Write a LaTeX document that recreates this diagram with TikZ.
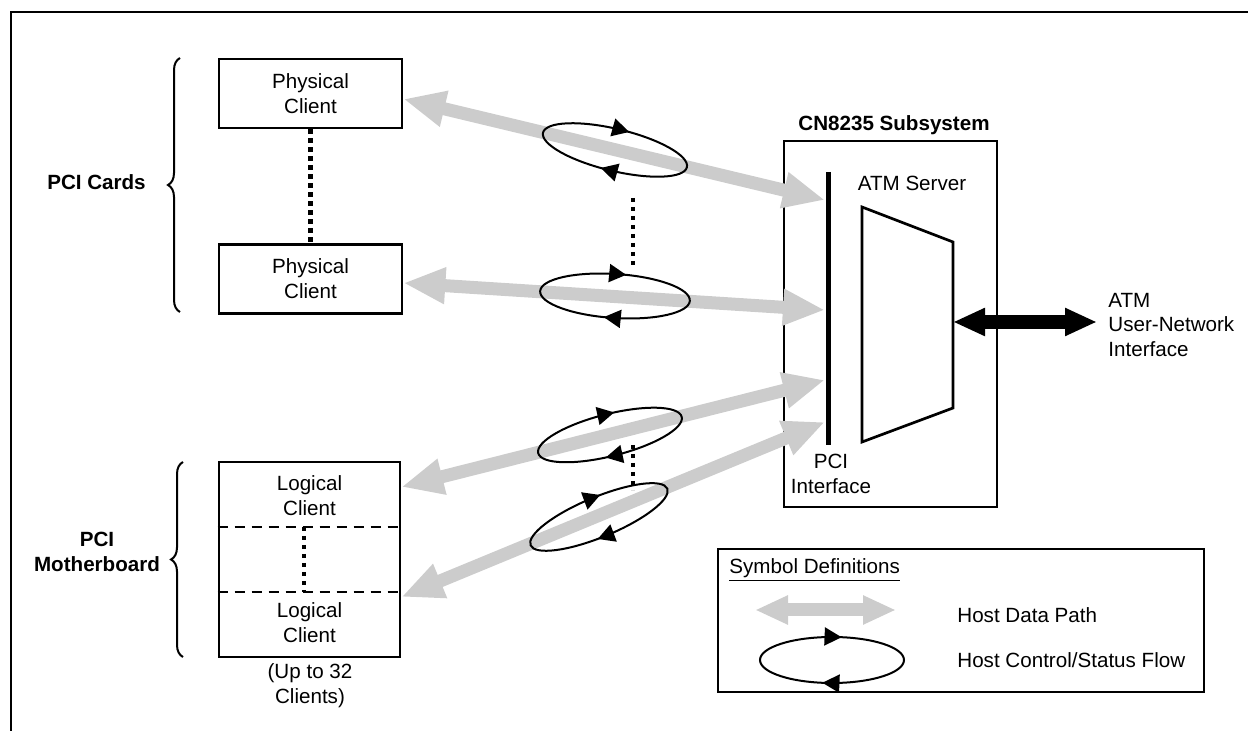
\documentclass[tikz,border=0pt]{standalone}
\usepackage{fontspec}
\setmainfont{Liberation Sans}
\usepackage{tikz}
\usetikzlibrary{arrows.meta,decorations.markings,decorations.pathreplacing}
\tikzset{%
	client/.style = {draw,line width=1.35pt,minimum width=91.5pt,minimum height=34.5pt,align=center,inner sep=0},
	datapath/.style = {line width=6.5pt,draw=gray!40,{Triangle[length=21pt,width=17pt]}-{Triangle[length=21pt,width=17pt]}},
	ctrl/.style = {line width=1pt,postaction=decorate,decoration={markings,
		mark=at position .28 with {\arrow{Triangle[length=8.5pt,width=9pt]}},
		mark=at position .78 with {\arrow{Triangle[length=8.5pt,width=9pt]}}}},
	dots/.style = {line width=2.2pt,dash pattern=on 2.2pt off 2.3pt},
	brc/.style = {decorate,decoration={brace,amplitude=6pt},line width=1pt},
	txt/.style = {inner sep=0,align=center}%
}
\begin{document}
\begin{tikzpicture}[x=0.5pt,y=-0.5pt,font=\fontsize{10.3pt}{12.4pt}\selectfont]
		\useasboundingbox(0,0)rectangle(1248,731);
		\draw[line width=1.1pt](11,731)|-(1248,12);
		
		\node(pc1)[client]at(310.5,93.5){Physical\\Client};
		\node(pc2)[client]at(310.5,279){Physical\\Client};
		\draw[dots](pc1.south)--(pc2.north);
		\draw[brc](180,312)--(180,58);
		\node[txt]at(96.5,182){\textbf{PCI Cards}};
		
		\node(mb)[client,minimum width=90.5pt,minimum height=97.5pt]at(309.5,559.5){};
		\draw[line width=1.2pt,dash pattern=on 5pt off 3.5pt](mb.west|-0,527)--(mb.east|-0,527);
		\draw[line width=1.2pt,dash pattern=on 5pt off 3.5pt](mb.west|-0,592)--(mb.east|-0,592);
		\node(lc1)[txt]at(309.5,496){Logical\\Client};
		\node(lc2)[txt]at(309.5,623){Logical\\Client};
		\draw[dots](304,527)--(304,592);
		\draw[brc](183,657)--(183,462);
		\node[txt]at(97,552){\textbf{PCI}\\\textbf{Motherboard}};
		\node[txt]at(310,686){(Up to 32\\Clients)};
		
		\node(sub)[draw,line width=1.35pt,minimum width=106.5pt,minimum height=183pt]at(890.5,324){};
		\node[txt]at(894,125){\textbf{CN8235 Subsystem}};
		\draw[line width=2.5pt](828,172)--(828,445);
		\node[txt]at(912,183){ATM Server};
		\draw[line width=1.35pt](862,207)--(953,242)--(953,408)--(862,442)--cycle;
		\node[txt]at(831,474){PCI\\Interface};
		\coordinate(srv)at(953,322);
		\coordinate(uni)at(1097,322);
		\draw[line width=7pt,{Triangle[length=16pt,width=13pt]}-{Triangle[length=16pt,width=13pt]}](srv)--(uni);
		\node[txt,anchor=west,align=left]at(1108,325){ATM\\User-Network\\Interface};
		
		\coordinate(r1)at(825,200);
		\coordinate(r2)at(825,310);
		\coordinate(r3)at(825,380);
		\coordinate(r4)at(825,422);
		\draw[datapath]([yshift=-2.75pt]pc1.east)--(r1);
		\draw[datapath]([yshift=-2pt]pc2.east)--(r2);
		\draw[datapath]([yshift=36.25pt]mb.east)--(r3);
		\draw[datapath]([yshift=-18.75pt]mb.east)--(r4);
		
		\coordinate(e1)at(615,150);
		\coordinate(e2)at(615,296);
		\coordinate(e3)at(610,435);
		\coordinate(e4)at(599,517);
		\draw[ctrl,rotate around={-13.5:(e1)}](e1)ellipse[x radius=74,y radius=21];
		\draw[ctrl,rotate around={-3.7:(e2)}](e2)ellipse[x radius=75,y radius=22];
		\draw[ctrl,rotate around={14.2:(e3)}](e3)ellipse[x radius=74,y radius=21];
		\draw[ctrl,rotate around={22.5:(e4)}](e4)ellipse[x radius=74,y radius=20];
		\draw[dots](633,198)--(633,267);
		\draw[dots](633,445)--(633,490);
		
		\node(leg)[draw,line width=1.35pt,minimum width=243pt,minimum height=71.5pt]at(961,620.5){};
		\node[txt,anchor=west]at(729,570){\underline{Symbol Definitions}};
		\coordinate(g1)at(755,610);
		\coordinate(g2)at(896,610);
		\draw[line width=6.5pt,draw=gray!40,{Triangle[length=16.5pt,width=13.5pt]}-{Triangle[length=16.5pt,width=13.5pt]}](g1)--(g2);
		\node[txt,anchor=west]at(957,615){Host Data Path};
		\coordinate(e0)at(832,660);
		\draw[ctrl](e0)ellipse[x radius=72,y radius=23];
		\node[txt,anchor=west]at(957,660){Host Control/Status Flow};
\end{tikzpicture}
\end{document}
